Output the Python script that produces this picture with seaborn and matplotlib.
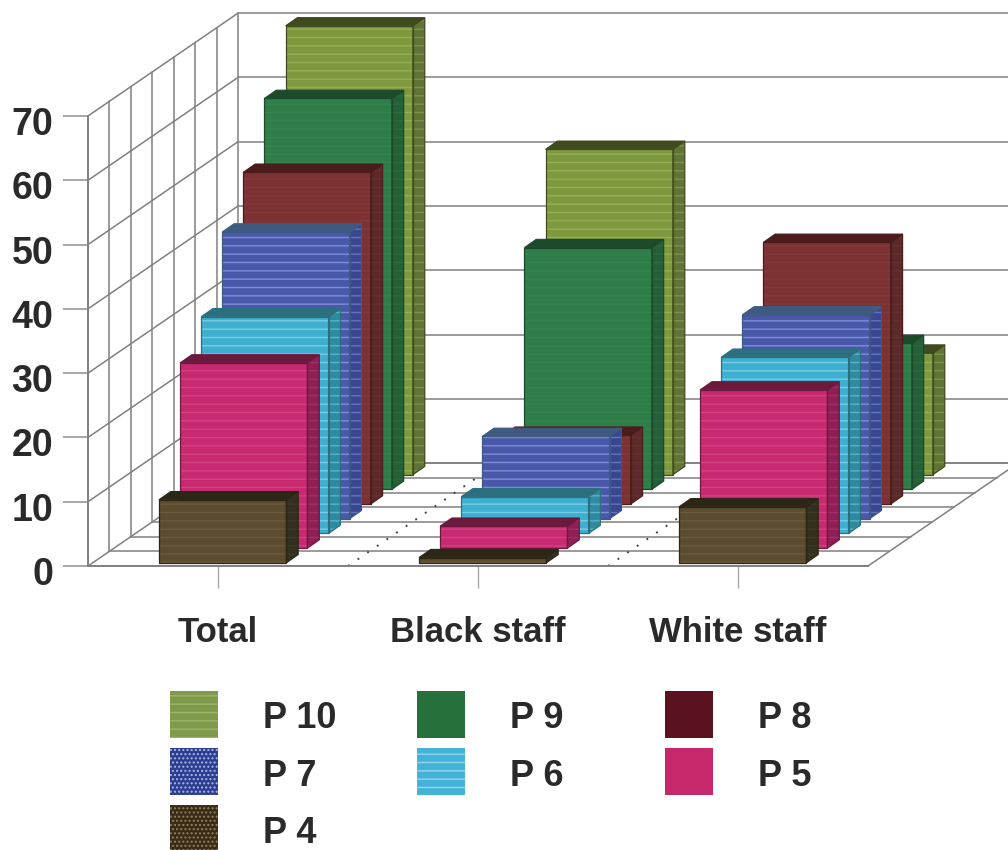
import matplotlib
matplotlib.use("Agg")
import matplotlib.pyplot as plt
import seaborn as sns
from matplotlib.patches import Patch, Polygon
from matplotlib.transforms import Affine2D, ScaledTranslation

categories = ["Total", "Black staff", "White staff"]
series_names = ["P 4", "P 5", "P 6", "P 7", "P 8", "P 9", "P 10"]

p4 = [9.8, 0.8, 8.7]
p5 = [28.8, 3.4, 24.6]
p6 = [33.7, 5.7, 27.4]
p7 = [44.6, 12.8, 31.7]
p8 = [51.6, 10.7, 40.7]
p9 = [60.8, 37.6, 22.7]
p10 = [69.8, 50.6, 18.9]
series_values = [p4, p5, p6, p7, p8, p9, p10]

face_colors = ["#5c4c30", "#c72a70", "#3fafd0", "#4a58aa", "#7c3232", "#2f7d48", "#7f9a3e"]
stripe_colors = ["#6b5b3e", "#d2437f", "#78cde6", "#7f8dd8", "#823838", "#348250", "#96ae58"]
side_colors = ["#33301f", "#8f1f55", "#2f8aa0", "#3a4690", "#5c2a2a", "#245f38", "#5f7436"]
side_stripes = ["#3c3926", "#a0306a", "#58b4cc", "#6474c4", "#682f2f", "#2a6a40", "#7c9444"]
top_colors = ["#2c2616", "#6b1a3e", "#2c6f7e", "#3f5a80", "#4a1c1c", "#1e4a2c", "#3f4a1e"]

# Legend swatches are darker than the bars they stand for
swatch_colors = ["#3a2a18", "#c7286c", "#45b2d8", "#2c3c8e", "#5a1220", "#26703c", "#7f9a4a"]
swatch_stripes = ["#8f8058", "#c7286c", "#90d8f0", "#a8b4e8", "#5a1220", "#26703c", "#9cb664"]
swatch_hatches = ["....", None, "--", "....", None, None, "--"]

legend_columns = [["P 10", "P 7", "P 4"], ["P 9", "P 6"], ["P 8", "P 5"]]

# Oblique projection: one depth slot moves a point right and up the page
WIDTH_PX, HEIGHT_PX = 1008, 850
SLOTS = len(series_names)
PX_PER_CAT = 260.0
PX_PER_VALUE = 6.43
DX = 21.43 / PX_PER_CAT
BAR_DX = 21.1 / PX_PER_CAT
DY = 14.7 / PX_PER_VALUE
BAR_START = 0.22
BAR_DEPTH = 0.56
BAR_WIDTH = 0.49
GRID = "#808080"


def project(x, value, depth, dx=DX):
    return x + depth * dx, value + depth * DY


sns.set_style("white")
plt.rcParams["font.family"] = ["Liberation Sans", "DejaVu Sans"]
plt.rcParams["font.weight"] = "bold"
plt.rcParams["hatch.linewidth"] = 1.0

fig = plt.figure(figsize=(WIDTH_PX / 100, HEIGHT_PX / 100), dpi=100)
ax = fig.add_axes([88 / WIDTH_PX, (HEIGHT_PX - 566) / HEIGHT_PX, 780 / WIDTH_PX, 450 / HEIGHT_PX])

y_ticks = list(range(0, 71, 10))


def wire(xs, vs, ds, **style):
    pts = [project(x, v, d) for x, v, d in zip(xs, vs, ds)]
    ax.plot(*zip(*pts), color=style.pop("color", GRID), lw=style.pop("lw", 1.1),
            clip_on=False, zorder=1, **style)


# Back wall and left wall
for v in y_ticks:
    wire([-0.5, -0.5], [v, v], [0, SLOTS])
    wire([-0.5, 2.5 + 0.6], [v, v], [SLOTS, SLOTS])
for d in range(SLOTS + 1):
    wire([-0.5, -0.5], [0, 70], [d, d])
# Floor
for d in range(SLOTS + 1):
    wire([-0.5, 2.5], [0, 0], [d, d])
wire([2.5, 2.5], [0, 0], [0, SLOTS])
for boundary in (0.5, 1.5):
    wire([boundary, boundary], [0, 0], [0, SLOTS], color="#444444", lw=1.4, linestyle=(0, (1, 5)))

# Bars run from the rear series to the front one
for slot in reversed(range(SLOTS)):
    start = slot + BAR_START
    shift = Affine2D().translate(start * BAR_DX, start * DY)
    layer = 3 + 2 * (SLOTS - slot)
    sns.barplot(
        x=categories, y=series_values[slot], color=face_colors[slot], saturation=1,
        width=BAR_WIDTH, edgecolor=stripe_colors[slot], linewidth=0, hatch="--",
        transform=shift + ax.transData, clip_on=False, zorder=layer, ax=ax,
    )
    for rect in ax.containers[-1]:
        left, right = rect.get_x(), rect.get_x() + rect.get_width()
        top = rect.get_height()
        end = start + BAR_DEPTH
        side = [project(right, 0, start, BAR_DX), project(right, 0, end, BAR_DX),
                project(right, top, end, BAR_DX), project(right, top, start, BAR_DX)]
        cap = [project(left, top, start, BAR_DX), project(right, top, start, BAR_DX),
               project(right, top, end, BAR_DX), project(left, top, end, BAR_DX)]
        front = [project(left, 0, start, BAR_DX), project(right, 0, start, BAR_DX),
                 project(right, top, start, BAR_DX), project(left, top, start, BAR_DX)]
        ax.add_patch(Polygon(side, closed=True, facecolor=side_colors[slot], edgecolor=side_stripes[slot],
                             hatch="--", lw=0, clip_on=False, zorder=layer))
        ax.add_patch(Polygon(cap, closed=True, facecolor=top_colors[slot], edgecolor=top_colors[slot],
                             lw=0.8, clip_on=False, zorder=layer))
        for outline in (front, side):
            ax.add_patch(Polygon(outline, closed=True, fill=False, edgecolor=top_colors[slot],
                                 lw=0.9, clip_on=False, zorder=layer + 1))

ax.set_xlim(-0.5, 2.5)
ax.set_ylim(0, 70)
ax.set_xlabel("")
ax.set_ylabel("")
ax.set_yticks(y_ticks)
ax.set_xticks(range(len(categories)))
ax.set_xticklabels(categories)
ax.patch.set_alpha(0)
for name in ("top", "right"):
    ax.spines[name].set_visible(False)
for name in ("left", "bottom"):
    ax.spines[name].set_color(GRID)
    ax.spines[name].set_linewidth(1.3)
ax.tick_params(axis="y", left=True, length=18, width=1.1, color="#909090", pad=7, labelsize=27,
               labelcolor="#2a2a2a")
ax.tick_params(axis="x", bottom=True, length=16, width=1.0, color="#a8a8a8", pad=20, labelsize=25,
               labelcolor="#2a2a2a")
# Value labels hang slightly below their tick
for label in ax.get_yticklabels():
    label.set_transform(label.get_transform() + ScaledTranslation(0, -5 / 100, fig.dpi_scale_trans))

# One legend per column so each keeps its own horizontal position
for col_labels, x_px in zip(legend_columns, (170, 417, 665)):
    handles = []
    for label in col_labels:
        i = series_names.index(label)
        handles.append(Patch(facecolor=swatch_colors[i], edgecolor=swatch_stripes[i],
                             hatch=swatch_hatches[i], lw=0, label=label))
    column = fig.legend(
        handles=handles, loc="upper left", frameon=False, fontsize=26,
        bbox_to_anchor=(x_px / WIDTH_PX, 1 - 691 / HEIGHT_PX), borderpad=0, borderaxespad=0,
        handlelength=1.33, handleheight=1.63, handletextpad=1.25, labelspacing=0.28,
        labelcolor="#2a2a2a",
    )
    # Labels sit a little below the swatch centre
    for text in column.get_texts():
        text.set_y(-2)

fig.savefig("out.png", dpi=100, facecolor="white")
